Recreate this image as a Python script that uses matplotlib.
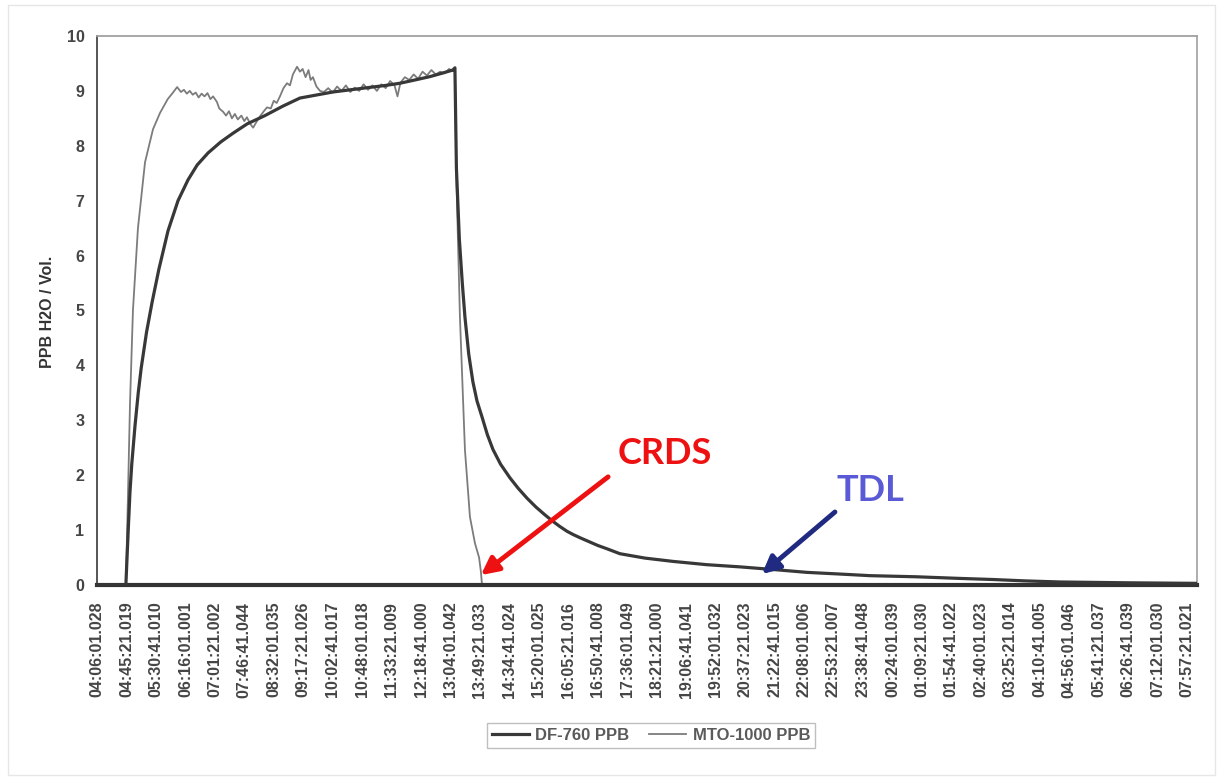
import matplotlib
matplotlib.use("Agg")
import matplotlib.pyplot as plt
from matplotlib.patches import Rectangle

# time stamps of the x tick labels (one every 45:20)
time_labels = [
    "04:06:01.028", "04:45:21.019", "05:30:41.010", "06:16:01.001", "07:01:21.002",
    "07:46:41.044", "08:32:01.035", "09:17:21.026", "10:02:41.017", "10:48:01.018",
    "11:33:21.009", "12:18:41.000", "13:04:01.042", "13:49:21.033", "14:34:41.024",
    "15:20:01.025", "16:05:21.016", "16:50:41.008", "17:36:01.049", "18:21:21.000",
    "19:06:41.041", "19:52:01.032", "20:37:21.023", "21:22:41.015", "22:08:01.006",
    "22:53:21.007", "23:38:41.048", "00:24:01.039", "01:09:21.030", "01:54:41.022",
    "02:40:01.023", "03:25:21.014", "04:10:41.005", "04:56:01.046", "05:41:21.037",
    "06:26:41.039", "07:12:01.030", "07:57:21.021",
]

# DF-760 (TDL) - position in tick-interval units, ppb
df_pos = [0.0, 0.98, 1.06, 1.12, 1.18, 1.29, 1.4, 1.5, 1.68, 1.87, 2.1, 2.41, 2.75, 3.09, 3.4,
          3.77, 4.2, 4.62, 5.1, 5.7, 6.3, 6.89, 7.5, 8.01, 8.6, 9.2, 9.8, 10.29, 10.8,
          11.3, 11.7, 12.08, 12.15, 12.2, 12.3, 12.4, 12.49, 12.62, 12.76, 12.9, 13.07,
          13.25, 13.44, 13.7, 14.02, 14.3, 14.6, 14.9, 15.2, 15.45, 15.7, 15.95, 16.16,
          16.4, 16.7, 17.0, 17.31, 17.75, 18.6, 19.55, 20.7, 21.83, 23.0, 24.1, 25.2,
          26.24, 27.8, 29.29, 30.41, 31.5, 32.69, 35.0, 37.34]
df_ppb = [0.0, 0.0, 1.0, 1.7, 2.2, 2.9, 3.5, 3.95, 4.6, 5.15, 5.75, 6.45, 7.0, 7.38, 7.65,
          7.87, 8.07, 8.23, 8.4, 8.55, 8.72, 8.87, 8.93, 8.98, 9.02, 9.06, 9.1, 9.14, 9.2,
          9.26, 9.32, 9.38, 9.42, 7.6, 6.3, 5.5, 4.88, 4.2, 3.7, 3.35, 3.06,
          2.74, 2.47, 2.2, 1.95, 1.76, 1.58, 1.42, 1.28, 1.17, 1.07, 0.98, 0.92,
          0.86, 0.79, 0.72, 0.66, 0.57, 0.49, 0.43, 0.37, 0.33, 0.28, 0.23, 0.2,
          0.17, 0.15, 0.12, 0.1, 0.075, 0.055, 0.04, 0.03]

# MTO-1000 (CRDS)
mto_pos = [0.0, 0.98, 1.05, 1.12, 1.22, 1.39, 1.63, 1.9, 2.14, 2.4, 2.55, 2.72, 2.85, 2.95,
           3.05, 3.15, 3.25, 3.35, 3.45, 3.55, 3.65, 3.75, 3.85, 3.94, 4.07, 4.15, 4.28,
           4.38, 4.48, 4.58, 4.68, 4.78, 4.9, 5.0, 5.09, 5.2, 5.3, 5.43, 5.55, 5.65, 5.77,
           5.9, 6.0, 6.1, 6.21, 6.33, 6.45, 6.55, 6.65, 6.79, 6.89, 6.98, 7.08, 7.18, 7.25,
           7.33, 7.45, 7.57, 7.7, 7.85, 8.0, 8.15, 8.3, 8.45, 8.6, 8.75, 8.9, 9.05, 9.2,
           9.35, 9.5, 9.65, 9.8, 9.95, 10.1, 10.2, 10.3, 10.45, 10.6, 10.75, 10.9, 11.05,
           11.2, 11.35, 11.5, 11.65, 11.8, 11.95, 12.08, 12.15, 12.2, 12.32, 12.49, 12.66,
           12.83, 12.97, 13.03, 13.07, 37.34]
mto_ppb = [0.0, 0.0, 1.6, 3.3, 5.0, 6.5, 7.7, 8.3, 8.6, 8.85, 8.95, 9.07, 8.98, 9.02,
           8.95, 9.0, 8.93, 8.97, 8.88, 8.95, 8.9, 8.96, 8.85, 8.9, 8.8, 8.68, 8.62,
           8.55, 8.63, 8.5, 8.58, 8.48, 8.55, 8.45, 8.52, 8.4, 8.33, 8.45, 8.55, 8.62, 8.7,
           8.68, 8.82, 8.78, 8.9, 9.05, 9.14, 9.1, 9.3, 9.44, 9.35, 9.4, 9.25, 9.38, 9.2,
           9.25, 9.08, 9.0, 8.98, 9.05, 8.97, 9.08, 9.0, 9.1, 8.98, 9.06, 9.0, 9.12, 9.02,
           9.1, 9.0, 9.12, 9.05, 9.18, 9.1, 8.9, 9.15, 9.25, 9.2, 9.3, 9.22, 9.35,
           9.28, 9.38, 9.3, 9.35, 9.32, 9.4, 9.36, 9.4, 7.4, 4.88, 2.46, 1.24,
           0.76, 0.5, 0.25, 0.0, 0.0]

plt.rcParams["font.family"] = ["Liberation Sans", "DejaVu Sans"]

fig = plt.figure(figsize=(12.19, 7.8), dpi=100)
ax = fig.add_axes([97 / 1219, 1 - 585 / 780, 1100 / 1219, 549 / 780])

ax.plot(df_pos, df_ppb, color="#383838", lw=2.3, label="DF-760 PPB", zorder=3)
ax.plot(mto_pos, mto_ppb, color="#7c7c7c", lw=1.3, label="MTO-1000 PPB", zorder=2)

ax.set_xlim(0, 37.34)
ax.set_ylim(0, 10)
ax.set_yticks(range(0, 11))
ax.set_xticks(range(len(time_labels)))
ax.set_xticklabels(time_labels, rotation=90, fontsize=11.5, fontweight="bold", color="#454545")
ax.tick_params(axis="y", labelsize=11.5, labelcolor="#454545", length=0, pad=9)
ax.tick_params(axis="x", length=0, pad=12)
for lbl in ax.get_yticklabels():
    lbl.set_fontweight("bold")

ax.spines["left"].set_color("#555555")
ax.spines["left"].set_linewidth(1.4)
ax.spines["top"].set_color("#a0a0a0")
ax.spines["top"].set_linewidth(1.3)
ax.spines["right"].set_color("#a0a0a0")
ax.spines["right"].set_linewidth(1.2)
ax.spines["bottom"].set_color("#333333")
ax.spines["bottom"].set_linewidth(3.0)

fig.text(47 / 1219, 1 - 312 / 780, "PPB H2O / Vol.", rotation=90, ha="center", va="center",
         fontsize=11.5, fontweight="bold", color="#333333")

leg = fig.legend(loc="center", bbox_to_anchor=(651 / 1219, 1 - 735 / 780), ncol=2,
                 fontsize=12, frameon=True, fancybox=False, handlelength=2.2,
                 columnspacing=1.2, handletextpad=0.4, borderpad=0.3)
leg.get_frame().set_edgecolor("#b0b0b0")
leg.get_frame().set_linewidth(1.0)
for t in leg.get_texts():
    t.set_color("#5a5a5a")
    t.set_fontweight("bold")

# callouts
ax.annotate("", xy=(13.03, 0.18), xytext=(17.35, 1.97),
            arrowprops=dict(arrowstyle="-|>", color="#ee1111", lw=3.5, mutation_scale=26,
                            shrinkA=0, shrinkB=0), zorder=5)
ax.text(19.28, 2.40, "CRDS", color="#ee1111", fontsize=26, fontweight="bold",
        family=["Lato", "DejaVu Sans"], ha="center", va="center", zorder=5)
ax.annotate("", xy=(22.57, 0.2), xytext=(25.05, 1.33),
            arrowprops=dict(arrowstyle="-|>", color="#1f2a80", lw=3.5, mutation_scale=26,
                            shrinkA=0, shrinkB=0), zorder=5)
ax.text(26.24, 1.73, "TDL", color="#5a5ad6", fontsize=26, fontweight="bold",
        family=["Lato", "DejaVu Sans"], ha="center", va="center", zorder=5)

# faint outer frame of the scanned page
fig.patches.append(Rectangle((8 / 1219, 5 / 780), 1207 / 1219, 770 / 780, transform=fig.transFigure,
                             fill=False, edgecolor="#e6e6e6", lw=1.0))

fig.savefig("out.png", dpi=100)
